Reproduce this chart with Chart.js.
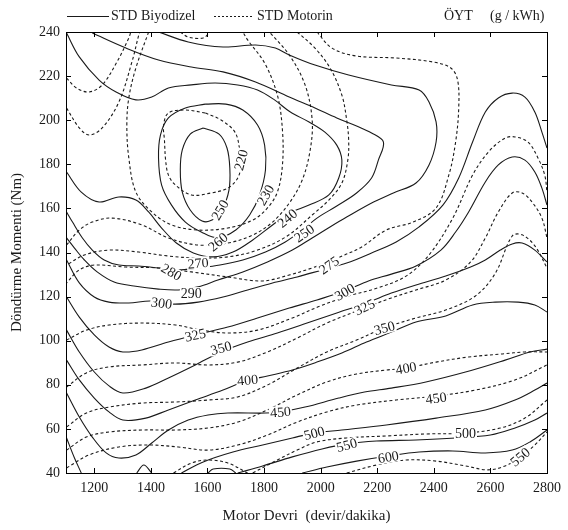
<!DOCTYPE html>
<html>
<head>
<meta charset="utf-8">
<script src="https://cdn.jsdelivr.net/npm/chart.js@4.4.0/dist/chart.umd.min.js"></script>
<style>
  html, body { margin: 0; padding: 0; background: #fff; }
</style>
</head>
<body>
<canvas id="myChart" width="568" height="530"></canvas>
<script>
// axis ticks
const xTicks = [1200, 1400, 1600, 1800, 2000, 2200, 2400, 2600, 2800];
const yTicks = [40, 60, 80, 100, 120, 140, 160, 180, 200, 220, 240];

// STD Biyodizel contours [rpm, Nm] (solid)
const bio250 = [[1585,196.5],[1539,193.7],[1511,186.5],[1504,177.4],[1511,167.4],[1539,159.3],[1581,154.3],[1616,154.7],[1651,159.3],[1676,168.3],[1679,178.3],[1669,187.4],[1641,193.7],[1585,196.5]];
const bio260 = [[1592,207.3],[1522,205.5],[1462,201],[1434,193.3],[1427,182.9],[1438,170.6],[1473,161.5],[1522,153.8],[1578,149.3],[1637,146.6],[1700,150.2],[1749,157],[1784,166.1],[1805,177.4],[1802,188.7],[1777,197.8],[1725,204.6],[1665,207.3],[1592,207.3]];
const bio270 = [[1102,239.5],[1147,228.7],[1217,218.2],[1277,212.8],[1347,209.2],[1403,210.5],[1462,214.6],[1543,216],[1627,216.9],[1707,216],[1777,213.7],[1837,209.2],[1893,203.7],[1959,199.2],[2015,194.6],[2057,188.7],[2075,181.9],[2064,173.8],[2029,166.1],[1959,161.5],[1889,157.9],[1830,152.5],[1760,145.7],[1690,140.2],[1620,138],[1550,139.8],[1490,144.3],[1438,151.1],[1392,158.4],[1347,163.8],[1287,165.2],[1217,162.9],[1154,167.4],[1102,176.5]];
const bio280 = [[1193,239.5],[1312,232.7],[1427,227.3],[1543,224.1],[1655,221.9],[1770,217.3],[1889,210.5],[1980,205.5],[2057,201],[2127,197.4],[2180,194.2],[2222,190.1],[2204,181.9],[2180,173.8],[2127,167],[2057,161.1],[1987,155.6],[1935,150.2],[1875,144.8],[1805,140.2],[1725,136.6],[1644,134.3],[1567,133],[1497,132.1],[1427,133],[1357,133.9],[1287,134.3],[1235,136.6],[1193,141.1],[1158,146.6],[1123,153.8],[1102,158.4]];
const bio290 = [[1427,240],[1532,235.5],[1655,233.2],[1770,234.1],[1840,232.7],[1889,229.6],[1980,225],[2099,220.5],[2250,216],[2348,213.7],[2383,208.3],[2408,199.2],[2408,190.1],[2383,179.7],[2337,171.5],[2257,167],[2187,162.9],[2092,156.1],[2033,151.6],[1970,146.6],[1900,141.1],[1812,135.7],[1725,131.2],[1637,127.5],[1567,124.4],[1497,123],[1427,123.4],[1340,124.8],[1270,126.6],[1210,131.2],[1165,136.6],[1130,142],[1102,146.6]];
const bio300 = [[1102,136.6],[1147,126.2],[1200,119.8],[1252,117.5],[1322,117.1],[1399,118],[1480,116.6],[1567,117.5],[1655,119.8],[1742,123],[1830,126.2],[1917,128.9],[2005,132.1],[2092,135.2],[2180,139.8],[2267,144.8],[2348,151.6],[2432,161.5],[2488,173.8],[2537,190.1],[2582,203.7],[2628,210.1],[2677,212.3],[2722,210.5],[2757,203.7],[2782,194.6],[2800,187.4]];
const bio325 = [[1102,119.8],[1147,110.7],[1200,102.6],[1252,97.1],[1301,94.9],[1368,95.8],[1462,99.4],[1557,102.6],[1672,106.2],[1777,110.3],[1889,114.8],[1987,118.5],[2085,122.5],[2169,127.1],[2250,130.2],[2337,133.9],[2425,141.1],[2477,149.3],[2523,158.4],[2582,172],[2628,179.7],[2677,183.3],[2722,181.9],[2757,176.5],[2782,169.2],[2800,161.5]];
const bio350 = [[1102,104.8],[1147,94.9],[1200,85.8],[1252,79.5],[1301,76.3],[1382,78.5],[1462,83.1],[1557,89],[1648,94.9],[1742,99.4],[1847,103.5],[1952,108],[2057,112.6],[2162,117.1],[2250,121.6],[2337,125.3],[2442,129.3],[2530,133.4],[2582,136.6],[2635,141.1],[2677,143.9],[2712,144.3],[2757,141.1],[2800,135.7]];
const bio400 = [[1102,91.2],[1147,82.2],[1200,74],[1252,67.7],[1301,64],[1382,64.9],[1462,68.6],[1557,73.1],[1655,77.6],[1735,81.7],[1812,84],[1900,86.7],[1987,90.3],[2075,94.4],[2162,99.4],[2250,103.9],[2337,108.5],[2442,111.2],[2537,116.2],[2617,117.5],[2698,117.5],[2757,116.2],[2800,113]];
const bio450 = [[1102,76.3],[1147,65.4],[1193,56.3],[1242,49.1],[1287,46.8],[1347,48.2],[1403,53.6],[1462,59.5],[1532,64],[1602,66.3],[1672,67.2],[1805,67.2],[1858,67.7],[1945,69.9],[2064,74],[2155,76.7],[2250,78.5],[2372,81.3],[2512,85.8],[2652,91.2],[2740,94.9],[2800,96.2]];
const bio500a = [[1102,55.9],[1130,46.8],[1154,40]];
const bio500 = [[1508,40],[1585,45],[1690,49.5],[1795,52.7],[1900,55.9],[1977,58.1],[2075,59.5],[2232,61.8],[2408,64.9],[2582,68.6],[2687,73.1],[2757,77.6],[2800,80.8]];
const bio550a = [[1350,40],[1375,43.6],[1403,40]];
const bio550 = [[1707,40],[1795,43.2],[1900,47.3],[2005,50.9],[2092,53.2],[2197,54.5],[2337,55],[2477,55.9],[2600,57.2],[2687,60.4],[2757,64],[2800,67.2]];
const bio600a = [[1602,40],[1620,41.8],[1679,41.8],[1700,40]];
const bio600 = [[1935,40],[2022,42.7],[2127,45.4],[2239,47.7],[2348,49.5],[2467,50],[2582,49.1],[2677,50.4],[2740,54.1],[2800,59.5]];

// STD Motorin contours [rpm, Nm] (dashed)
const mot220 = [[1592,203.3],[1522,204.6],[1462,203.3],[1445,197.8],[1448,191],[1452,182],[1462,175.1],[1487,170.6],[1543,166.1],[1613,167],[1672,169.2],[1707,173.8],[1718,179.7],[1714,186.5],[1697,194.6],[1648,200.1],[1592,203.3]];
const mot230 = [[1392,240],[1347,223.7],[1322,210.1],[1315,197.8],[1322,182.9],[1347,167.4],[1403,158.4],[1473,152.5],[1567,150.2],[1672,151.1],[1760,154.7],[1812,160.2],[1847,167.4],[1865,179.7],[1865,195.5],[1847,211.4],[1802,225.9],[1742,236.4],[1725,240]];
const mot240 = [[1102,143.4],[1147,150.2],[1193,153.8],[1263,155.6],[1368,152.5],[1462,146.6],[1567,143.4],[1672,144.3],[1760,147.9],[1830,153.8],[1889,162.4],[1935,172.9],[1963,186.5],[1970,200.1],[1945,216],[1889,229.6],[1819,240]];
const mot250 = [[1917,240],[1980,232.7],[2033,223.7],[2075,211.4],[2092,200.1],[2099,191],[2096,181.9],[2075,171.5],[2029,163.8],[1970,157],[1882,147.5],[1777,141.1],[1672,138],[1567,137.5],[1462,138.4],[1357,140.2],[1252,141.1],[1165,138.9],[1102,134.3]];
const mot275 = [[1987,240],[2040,232.7],[2127,229.1],[2267,228.2],[2397,226.4],[2460,223.7],[2484,218.2],[2488,205.5],[2477,190.1],[2453,175.1],[2408,160.2],[2327,153.8],[2232,150.2],[2145,142.5],[2085,138.9],[2029,135.7],[1970,133],[1889,129.8],[1795,127.1],[1672,128.9],[1543,131.2],[1427,133],[1312,133.4],[1200,134.3],[1147,132.1],[1102,126.2]];
const motTopA = [[1102,219.1],[1137,214.6],[1182,212.8],[1228,216],[1280,226.4],[1322,237.3],[1329,240]];
const motTopB = [[1102,205.5],[1147,196.5],[1182,193.3],[1228,196.5],[1287,208.3],[1333,226.4],[1357,238.6],[1361,240]];
const motTopC = [[1504,240],[1532,237.7],[1585,237.3],[1609,240]];
const mot300 = [[1102,100.3],[1172,104.8],[1252,107.1],[1368,108],[1487,107.1],[1578,104.8],[1672,103.5],[1777,104.8],[1900,110.3],[1998,115.7],[2099,120.3],[2201,123.9],[2302,129.3],[2383,138.9],[2467,155.6],[2537,175.1],[2593,185.6],[2652,191.9],[2687,192.4],[2733,190.1],[2768,182.9],[2792,175.1],[2800,167.4]];
const mot325 = [[1102,79],[1172,85.4],[1252,88.1],[1368,89],[1487,89.9],[1602,89],[1707,90.3],[1812,94.9],[1917,101.2],[2022,108],[2155,114.8],[2250,119.4],[2337,123],[2442,127.5],[2530,135.7],[2582,146.6],[2628,158.4],[2677,167],[2712,167],[2747,162.9],[2782,155.6],[2800,146.6]];
const mot350 = [[1102,60.9],[1172,67.2],[1252,69.9],[1368,71.7],[1487,72.2],[1602,73.1],[1707,74.5],[1812,79.9],[1917,87.6],[2022,94.9],[2127,100.3],[2225,105.8],[2337,110.3],[2442,113.9],[2547,120.3],[2617,130.5],[2677,147.5],[2712,148],[2757,143],[2800,133]];
const mot400 = [[1102,50.4],[1172,56.3],[1252,58.6],[1368,59.5],[1487,59.5],[1602,60.4],[1707,63.1],[1812,68.6],[1917,75.4],[2022,81.3],[2127,84.9],[2232,86.7],[2302,87.6],[2408,90.3],[2523,92.6],[2642,94],[2722,94.9],[2800,94.9]];
const mot450 = [[1102,42.3],[1182,48.2],[1287,51.8],[1392,52.7],[1497,51.8],[1602,50.4],[1707,52.7],[1812,57.2],[1917,63.1],[2022,67.7],[2127,70.8],[2267,73.1],[2408,74.9],[2547,77.6],[2687,82.2],[2800,89]];
const mot500a = [[1480,40],[1543,44.5],[1602,45.9],[1672,44.5],[1742,40]];
const mot500 = [[1760,40],[1847,45.9],[1917,50.4],[1987,54.1],[2092,55.9],[2232,56.8],[2372,57.7],[2512,58.1],[2635,60.4],[2722,64.9],[2800,73.1]];
const mot550 = [[2092,40],[2197,43.6],[2302,45.9],[2408,45.4],[2512,43.2],[2590,41.4],[2652,43.2],[2705,47.3],[2757,52.7],[2800,58.6]];

// contour labels
const labelText  = ['220','250','260','270','280','290','300','230','240','250','275','300','325','350','325','350','400','450','500','550','600','400','450','500','550'];
const labelRpm   = [1718,1644,1637,1567,1473,1543,1438,1805,1882,1942,2029,2085,2155,2225,1557,1648,1742,1858,1977,2092,2239,2302,2408,2512,2705];
const labelNm    = [182,159.3,144.8,135.2,131.2,121.6,117.1,166.1,155.6,148.8,134.3,122.1,115.3,105.8,102.6,96.7,82.2,67.7,58.1,52.7,47.3,87.6,74,58.1,47.3];
const labelAngle = [-75,-60,-40,-5,30,0,8,-60,-40,-35,-35,-30,-25,-15,-12,-15,-5,-5,-15,-15,-10,-10,-8,0,-40];

const bioLines = [bio250, bio260, bio270, bio280, bio290, bio300, bio325, bio350, bio400, bio450, bio500a, bio500, bio550a, bio550, bio600a, bio600];
const motLines = [mot220, mot230, mot240, mot250, mot275, motTopA, motTopB, motTopC, mot300, mot325, mot350, mot400, mot450, mot500a, mot500, mot550];

const serif = '"Liberation Serif", "DejaVu Serif", serif';
const ink = '#1a1a1a';

const toPts = arr => arr.map(([x, y]) => ({ x, y }));
const datasets = [];
bioLines.forEach(l => datasets.push({
    data: toPts(l), showLine: true, borderColor: ink, borderWidth: 1.1,
    pointRadius: 0, tension: 0.35, fill: false
}));
motLines.forEach(l => datasets.push({
    data: toPts(l), showLine: true, borderColor: ink, borderWidth: 1.1,
    borderDash: [3, 2.5], pointRadius: 0, tension: 0.35, fill: false
}));

// labels, frame, inward ticks and the top legend
const contourDecor = {
    id: 'contourDecor',
    afterDatasetsDraw(chart) {
        const { ctx, chartArea: a, scales: { x, y } } = chart;
        ctx.save();
        ctx.font = '14px ' + serif;
        ctx.textAlign = 'center';
        ctx.textBaseline = 'middle';
        labelText.forEach((t, i) => {
            const px = x.getPixelForValue(labelRpm[i]);
            const py = y.getPixelForValue(labelNm[i]);
            ctx.save();
            ctx.translate(px, py);
            ctx.rotate(labelAngle[i] * Math.PI / 180);
            const w = ctx.measureText(t).width;
            ctx.fillStyle = '#fff';
            ctx.fillRect(-w / 2 - 1, -6, w + 2, 12);
            ctx.fillStyle = ink;
            ctx.fillText(t, 0, 1);
            ctx.restore();
        });

        ctx.strokeStyle = '#000';
        ctx.lineWidth = 1;
        ctx.strokeRect(a.left + 0.5, a.top + 0.5, a.right - a.left, a.bottom - a.top);
        ctx.beginPath();
        xTicks.forEach(v => {
            const p = Math.round(x.getPixelForValue(v)) + 0.5;
            ctx.moveTo(p, a.bottom); ctx.lineTo(p, a.bottom - 5);
            ctx.moveTo(p, a.top); ctx.lineTo(p, a.top + 5);
        });
        yTicks.forEach(v => {
            const p = Math.round(y.getPixelForValue(v)) + 0.5;
            ctx.moveTo(a.left, p); ctx.lineTo(a.left + 5, p);
            ctx.moveTo(a.right, p); ctx.lineTo(a.right - 5, p);
        });
        ctx.stroke();

        // legend
        ctx.font = '14px ' + serif;
        ctx.textAlign = 'left';
        ctx.fillStyle = ink;
        ctx.strokeStyle = ink;
        ctx.beginPath();
        ctx.moveTo(67, 16.5); ctx.lineTo(109, 16.5);
        ctx.stroke();
        ctx.fillText('STD Biyodizel', 111, 16);
        ctx.setLineDash([2, 2]);
        ctx.beginPath();
        ctx.moveTo(214, 16.5); ctx.lineTo(254, 16.5);
        ctx.stroke();
        ctx.setLineDash([]);
        ctx.fillText('STD Motorin', 257, 16);
        ctx.fillText('ÖYT', 444, 16);
        ctx.fillText('(g / kWh)', 490, 16);
        ctx.restore();
    }
};

const ctx = document.getElementById('myChart').getContext('2d');
const myChart = new Chart(ctx, {
    type: 'scatter',
    data: { datasets },
    options: {
        responsive: false,
        animation: false,
        layout: { padding: { top: 32, right: 16, left: 0, bottom: 0 } },
        plugins: {
            legend: { display: false },
            tooltip: { enabled: false }
        },
        scales: {
            x: {
                type: 'linear', min: 1100, max: 2800,
                afterBuildTicks: s => { s.ticks = xTicks.map(v => ({ value: v })); },
                afterFit: s => { s.height = 57; },
                grid: { display: false, drawTicks: false },
                border: { display: false },
                ticks: { autoSkip: false, maxRotation: 0, padding: 7, color: ink, font: { family: serif, size: 14 },
                         callback: v => String(v) },
                title: { display: true, text: 'Motor Devri  (devir/dakika)', color: ink, padding: { bottom: 5 }, font: { family: serif, size: 15 } }
            },
            y: {
                type: 'linear', min: 40, max: 240,
                afterBuildTicks: s => { s.ticks = yTicks.map(v => ({ value: v })); },
                afterFit: s => { s.width = 66; },
                grid: { display: false, drawTicks: false },
                border: { display: false },
                ticks: { autoSkip: false, padding: 6, color: ink, font: { family: serif, size: 14 },
                         callback: v => String(v) },
                title: { display: true, text: 'Döndürme Momenti (Nm)', color: ink, padding: { top: 8 }, font: { family: serif, size: 15 } }
            }
        }
    },
    plugins: [contourDecor]
});
</script>
</body>
</html>
